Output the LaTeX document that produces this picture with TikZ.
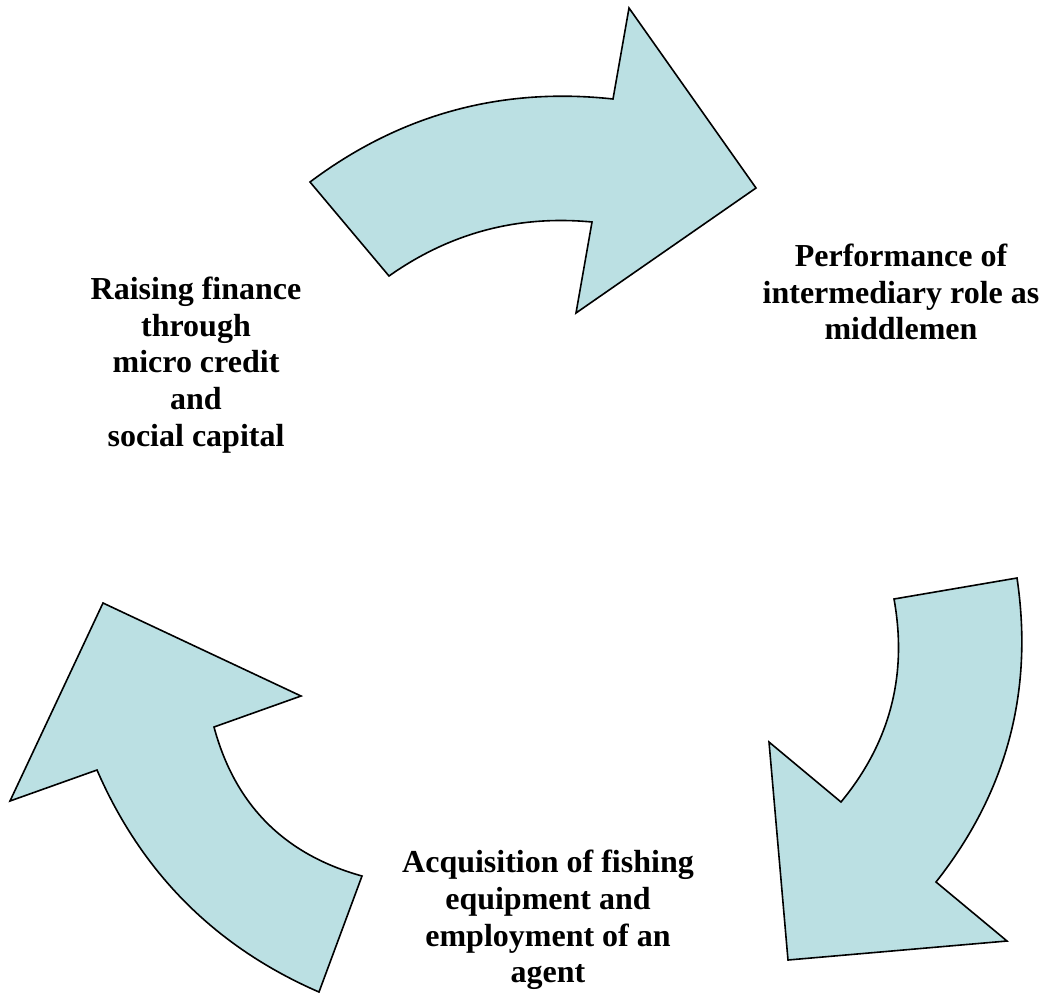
\documentclass[tikz,border=0pt]{standalone}
\usepackage{fontspec}
\setmainfont{Liberation Serif}
\definecolor{arrowblue}{RGB}{187,224,227}
\begin{document}
\begin{tikzpicture}[x=0.75pt,y=-0.75pt,
  bigarrow/.style={fill=arrowblue,draw=black,line width=1.2pt,line join=miter},
  stagetext/.style={font=\bfseries\fontsize{24}{27.6}\selectfont,align=center}]

\useasboundingbox (0,0) rectangle (1045,996);

\draw[bigarrow] (310,182) .. controls (400.1,114.4) and (501.1,86.8) .. (613,99)
  -- (629,8) -- (756,188) -- (576,313) -- (592,222)
  .. controls (517.6,214.9) and (450,232.9) .. (389,276) -- cycle;

\draw[bigarrow] (1017,578) .. controls (1033.8,691) and (1006.8,792.3) .. (936,882)
  -- (1007,941) -- (788,960) -- (769,742) -- (841,802)
  .. controls (890.1,742.5) and (907.7,674.9) .. (894,599) -- cycle;

\draw[bigarrow] (319,992) .. controls (215.8,947.2) and (141.8,873.2) .. (97,770)
  -- (10,801) -- (103,603) -- (301,696) -- (214,727)
  .. controls (234.9,804.9) and (284.3,854.5) .. (362,876) -- cycle;

\node[stagetext] (finance) at (196,365)
{Raising finance\\through\\micro credit\\and\\social capital};

\node[stagetext] (middlemen) at (901,292)
{Performance of\\intermediary role as\\middlemen};

\node[stagetext] (equipment) at (548,920)
{Acquisition of fishing\\equipment and\\employment of an\\agent};

\end{tikzpicture}
\end{document}
